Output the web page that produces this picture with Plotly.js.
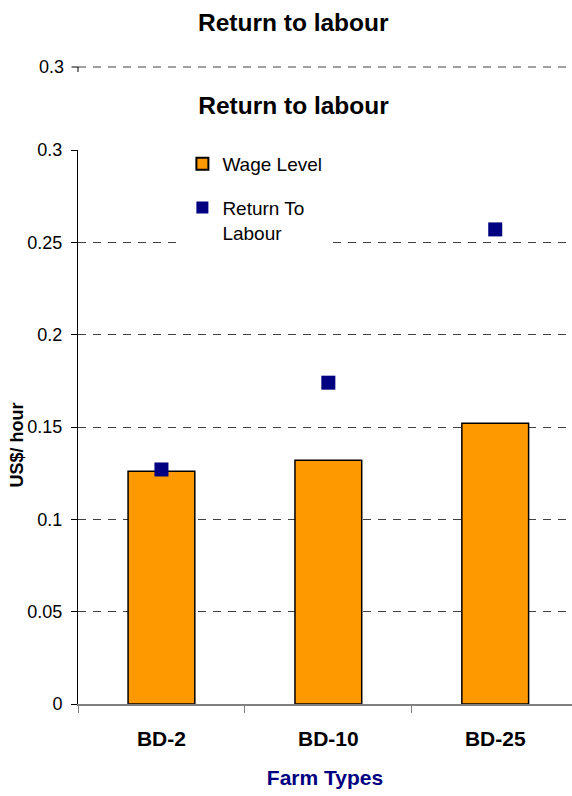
<!DOCTYPE html>
<html><head><meta charset="utf-8">
<script src="https://cdn.plot.ly/plotly-3.0.1.min.js"></script>
<style>body{margin:0;background:#fff}#c{width:572px;height:796px}</style>
</head><body><div id="c"></div>
<script>
const categories = ["BD-2", "BD-10", "BD-25"];
const wageLevel = [0.126, 0.132, 0.152];
const returnToLabour = [0.127, 0.174, 0.257];
const yTicks = [0, 0.05, 0.1, 0.15, 0.2, 0.25, 0.3];
const yTickText = ["0", "0.05", "0.1", "0.15", "0.2", "0.25", "0.3"];

const FONT = "Liberation Sans, Arial, sans-serif";
// paper coords for pixel positions (plot spans cols 77.5..572, rows 150..704)
const py = (row) => (704 - row) / 554;
const px = (col) => (col - 77.5) / (572 - 77.5);
const GRID = "#404040";

const data = [
  {type: "bar", name: "Wage Level", x: categories, y: wageLevel,
   width: 0.4, legendgroup: "a",
   marker: {color: "#FF9900", line: {color: "#000", width: 1.5}}},
  {type: "scatter", mode: "markers", name: "Return To<br>Labour", x: categories, y: returnToLabour,
   legendgroup: "b",
   marker: {symbol: "square", size: 14, color: "#000080"}}
];

const layout = {
  width: 572, height: 796,
  margin: {l: 77.5, r: 0, t: 150, b: 92, pad: 0},
  paper_bgcolor: "#fff", plot_bgcolor: "#fff",
  font: {family: FONT, color: "#000"},
  title: {text: "<b>Return to labour</b>", font: {size: 24.5, family: FONT, color: "#000"},
          x: 293.5/572, xref: "container", xanchor: "center", y: 1 - 105/796, yref: "container", yanchor: "middle"},
  showlegend: true,
  legend: {x: px(182), y: py(145), xanchor: "left", yanchor: "top",
           bgcolor: "#fff", borderwidth: 0, font: {size: 19, family: FONT, color: "#000"},
           tracegroupgap: 16, valign: "top", traceorder: "grouped", itemsizing: "constant"},
  xaxis: {type: "category", range: [-0.5, 2.46], showgrid: false,
          showline: true, linecolor: "#808080", linewidth: 1.5,
          ticks: "outside", tickson: "boundaries", ticklen: 7, tickcolor: "#808080",
          tickfont: {size: 21, family: FONT, color: "#000", weight: "bold"},
          ticklabelstandoff: 15,
          title: {text: "<b>Farm Types</b>", font: {size: 21, family: FONT, color: "#000080"}, standoff: 21}},
  yaxis: {range: [0, 0.3], tickvals: yTicks, ticktext: yTickText,
          showgrid: true, gridcolor: GRID, griddash: "8px,7px", gridwidth: 1,
          showline: true, linecolor: "#000", linewidth: 1,
          ticks: "outside", ticklen: 6, tickcolor: "#000", ticklabelstandoff: 5,
          tickfont: {size: 18, family: FONT, color: "#000"},
          zeroline: false},
  shapes: [
    {type: "line", xref: "paper", yref: "paper", x0: 0, x1: 1, y0: py(67), y1: py(67),
     line: {color: GRID, width: 1, dash: "8px,7px"}},
    {type: "line", xref: "paper", yref: "paper", x0: px(71), x1: px(77.5), y0: py(67), y1: py(67),
     line: {color: "#000", width: 1}},
    {type: "line", xref: "paper", yref: "paper", x0: px(77.5), x1: px(77.5), y0: py(67), y1: py(72),
     line: {color: "#000", width: 1}}
  ],
  annotations: [
    {text: "<b>Return to labour</b>", xref: "paper", yref: "paper", x: px(293.5), y: py(22),
     xanchor: "center", yanchor: "middle", showarrow: false, font: {size: 24.5, family: FONT, color: "#000"}},
    {text: "0.3", xref: "paper", yref: "paper", x: px(65), y: py(67),
     xanchor: "right", yanchor: "middle", showarrow: false, font: {size: 18, family: FONT, color: "#000"}},
    {text: "<b>US$/ hour</b>", xref: "paper", yref: "paper", x: px(16), y: py(445), textangle: -90,
     xanchor: "center", yanchor: "middle", showarrow: false, font: {size: 18, family: FONT, color: "#000"}}
  ]
};

Plotly.newPlot("c", data, layout, {displayModeBar: false, staticPlot: true});
</script>
</body></html>
